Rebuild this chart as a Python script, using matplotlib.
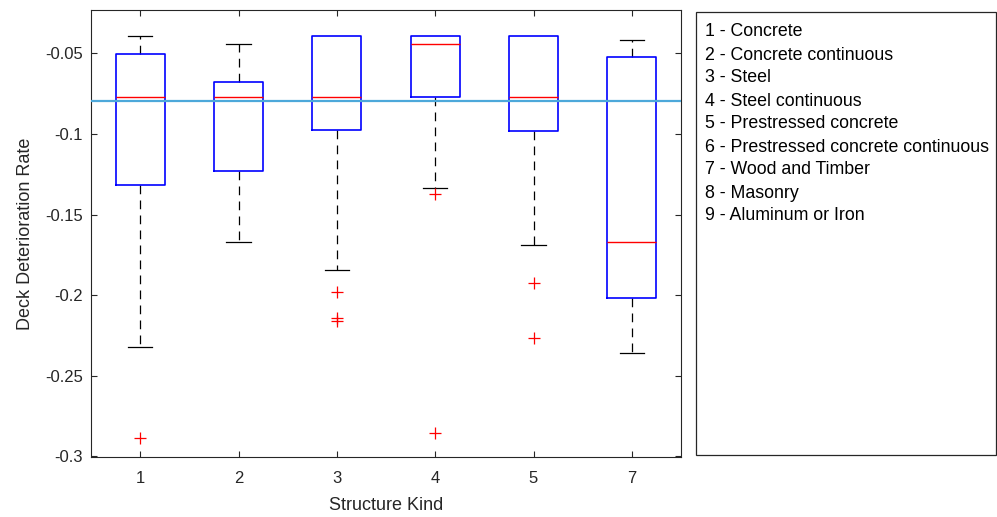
import matplotlib
matplotlib.use("Agg")
import matplotlib.pyplot as plt
from matplotlib.patches import Rectangle

plt.rcParams['font.family'] = ['Liberation Sans', 'DejaVu Sans']

# Structure kinds plotted and their box statistics (deck deterioration rate)
kinds = ["1", "2", "3", "4", "5", "7"]
q3_vals = [-0.0506, -0.0680, -0.0391, -0.0391, -0.0391, -0.0519]
medians = [-0.0771, -0.0771, -0.0771, -0.0440, -0.0771, -0.1668]
q1_vals = [-0.1316, -0.1229, -0.0976, -0.0771, -0.0981, -0.2020]
whisker_hi = [-0.0391, -0.0440, -0.0391, -0.0391, -0.0391, -0.0417]
whisker_lo = [-0.2322, -0.1668, -0.1846, -0.1337, -0.1687, -0.2362]
outliers = [
    [-0.2890],
    [],
    [-0.1983, -0.2140, -0.2160],
    [-0.1372, -0.2856],
    [-0.1922, -0.2268],
    [],
]
reference_rate = -0.0796

legend_lines = [
    "1 - Concrete",
    "2 - Concrete continuous",
    "3 - Steel",
    "4 - Steel continuous",
    "5 - Prestressed concrete",
    "6 - Prestressed concrete continuous",
    "7 - Wood and Timber",
    "8 - Masonry",
    "9 - Aluminum or Iron",
]

fig = plt.figure(figsize=(9.97, 5.17), dpi=100)
W, H = 997, 517
ax = fig.add_axes([91 / W, 1 - 457 / H, (681 - 91) / W, (457 - 10) / H])

stats = []
for i in range(len(kinds)):
    stats.append(dict(med=medians[i], q1=q1_vals[i], q3=q3_vals[i],
                      whislo=whisker_lo[i], whishi=whisker_hi[i],
                      fliers=outliers[i], label=kinds[i]))

positions = list(range(1, len(kinds) + 1))
parts = ax.bxp(stats, positions=positions, widths=0.5, showfliers=True,
               boxprops=dict(color='#0000ff', linewidth=1.2),
               medianprops=dict(color='#ff0000', linewidth=1.0),
               whiskerprops=dict(color='black', linewidth=0.9, linestyle=(0, (7, 5))),
               capprops=dict(color='black', linewidth=0.9),
               flierprops=dict(marker='+', markeredgecolor='#ff0000', markersize=8,
                               markeredgewidth=0.9, linestyle='none'),
               capwidths=0.25)
# boxes sit above whiskers and caps; a cap lying on the box edge is hidden
for art in parts['whiskers'] + parts['caps']:
    art.set_zorder(1.5)
for art in parts['boxes']:
    art.set_zorder(3)
for art in parts['medians']:
    art.set_zorder(3.5)
for i in range(len(kinds)):
    if whisker_hi[i] == q3_vals[i]:
        parts['caps'][2 * i + 1].set_visible(False)
    if whisker_lo[i] == q1_vals[i]:
        parts['caps'][2 * i].set_visible(False)

ax.axhline(reference_rate, color='#4DA8DA', linewidth=1.6, zorder=5)

ax.set_xlim(0.5, 6.5)
ax.set_ylim(-0.3005, -0.023)
ax.set_xticks(positions)
ax.set_xticklabels(kinds)
ax.set_yticks([-0.3, -0.25, -0.2, -0.15, -0.1, -0.05])
ax.set_yticklabels(['-0.3', '-0.25', '-0.2', '-0.15', '-0.1', '-0.05'])
ax.tick_params(direction='in', top=True, right=True, length=4, width=0.8,
               colors='#262626', labelsize=12, labelcolor='#262626')
ax.tick_params(axis='x', pad=10)
ax.tick_params(axis='y', pad=6)
for s in ax.spines.values():
    s.set_color('#262626')
    s.set_linewidth(0.8)

ax.set_xlabel("Structure Kind", fontsize=13, color='#262626', labelpad=8)
ax.set_ylabel("Deck Deterioration Rate", fontsize=13, color='#262626', labelpad=8)

# Text box listing the structure kind codes
fig.patches.append(Rectangle((696 / W, 1 - 455 / H), (996 - 696) / W, (455 - 12) / H,
                             transform=fig.transFigure, fill=False,
                             edgecolor='#262626', linewidth=0.9))
for k, line in enumerate(legend_lines):
    fig.text(705 / W, 1 - (32 + 23 * k) / H, line, fontsize=12.8,
             color='black', va='center', ha='left')

fig.savefig("out.png", dpi=100)
